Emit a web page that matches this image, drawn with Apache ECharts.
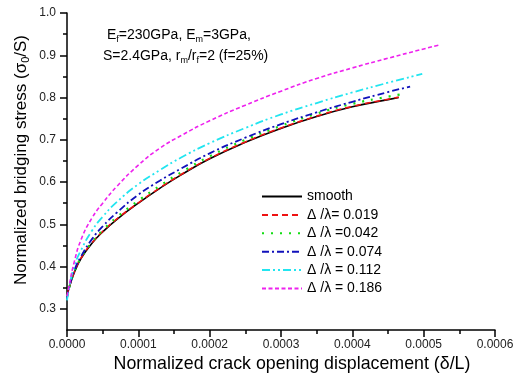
<!DOCTYPE html>
<html><head><meta charset="utf-8">
<script src="https://cdn.jsdelivr.net/npm/echarts@6/dist/echarts.min.js"></script>
<style>html,body{margin:0;padding:0;background:#fff}#c{width:521px;height:384px}</style>
</head><body><div id="c"></div>
<script>
// ---- data ----
const seriesNames = ['smooth', 'Δ /λ= 0.019', 'Δ /λ =0.042', 'Δ /λ = 0.074', 'Δ /λ = 0.112', 'Δ /λ = 0.186'];
const xBase = [0, 0.000003, 0.00001, 0.00002, 0.000035, 0.00005, 0.00007, 0.0001, 0.00013, 0.00016, 0.0002, 0.00025, 0.0003, 0.00035, 0.0004, 0.00045];
const xSmooth = xBase.concat([0.000465]);
const ySmooth = [0.33, 0.35, 0.385, 0.42, 0.455, 0.482, 0.512, 0.55, 0.585, 0.617, 0.655, 0.694, 0.727, 0.755, 0.778, 0.795, 0.80];
const x019 = xBase.concat([0.000465]);
const y019 = [0.33, 0.35, 0.386, 0.421, 0.456, 0.483, 0.513, 0.551, 0.586, 0.618, 0.656, 0.695, 0.728, 0.756, 0.779, 0.796, 0.801];
const x042 = xBase.concat([0.00047]);
const y042 = [0.33, 0.35, 0.386, 0.422, 0.458, 0.486, 0.517, 0.556, 0.591, 0.623, 0.661, 0.70, 0.733, 0.762, 0.785, 0.802, 0.808];
const x074 = xBase.concat([0.000481]);
const y074 = [0.325, 0.35, 0.39, 0.425, 0.465, 0.495, 0.528, 0.57, 0.603, 0.632, 0.668, 0.705, 0.737, 0.765, 0.79, 0.813, 0.826];
const x112 = xBase.concat([0.000498]);
const y112 = [0.32, 0.35, 0.40, 0.44, 0.485, 0.518, 0.553, 0.595, 0.628, 0.658, 0.692, 0.728, 0.76, 0.787, 0.812, 0.835, 0.856];
const x186 = xBase.concat([0.000521]);
const y186 = [0.33, 0.355, 0.41, 0.465, 0.515, 0.55, 0.59, 0.64, 0.68, 0.71, 0.745, 0.782, 0.815, 0.845, 0.87, 0.893, 0.924];
const yTicks = [0.3, 0.4, 0.5, 0.6, 0.7, 0.8, 0.9, 1.0];
const yMinorTicks = [0.35, 0.45, 0.55, 0.65, 0.75, 0.85, 0.95];

// ---- styles ----
const FONT = "'Liberation Sans', Arial, sans-serif";
const seriesX = [xSmooth, x019, x042, x074, x112, x186];
const seriesY = [ySmooth, y019, y042, y074, y112, y186];
const styles = [
  {color: '#000000', width: 1.6, type: 'solid'},
  {color: '#ee1111', width: 1.6, type: [6, 4]},
  {color: '#11dd11', width: 2.2, type: [2, 7]},
  {color: '#1111bb', width: 1.8, type: [7, 3, 2, 3]},
  {color: '#22e5f0', width: 1.8, type: [8, 3, 2, 3, 2, 3]},
  {color: '#ee22ee', width: 1.6, type: [4, 2.5]}
];

const chart = echarts.init(document.getElementById('c'), null, {renderer: 'canvas'});
const axisLineStyle = {color: '#000', width: 1.5};
chart.setOption({
  animation: false,
  backgroundColor: '#fff',
  textStyle: {fontFamily: FONT},
  grid: {left: 67, right: 26, top: 13, bottom: 54},
  xAxis: {
    type: 'value', min: 0, max: 0.0006, interval: 0.0001,
    axisLine: {lineStyle: axisLineStyle},
    axisTick: {length: 7, lineStyle: axisLineStyle},
    minorTick: {show: true, splitNumber: 2, length: 4, lineStyle: axisLineStyle},
    splitLine: {show: false},
    axisLabel: {formatter: v => v.toFixed(4), fontSize: 12, color: '#222', margin: 9, fontFamily: FONT}
  },
  yAxis: [{
    type: 'value', min: 0.25, max: 1.0,
    axisLine: {show: true, lineStyle: axisLineStyle},
    axisTick: {show: true, length: 7, lineStyle: axisLineStyle, customValues: yTicks},
    splitLine: {show: false},
    axisLabel: {customValues: yTicks, formatter: v => v.toFixed(1), fontSize: 12, color: '#222', margin: 11, fontFamily: FONT}
  }, {
    type: 'value', min: 0.25, max: 1.0, position: 'left',
    axisLine: {show: false},
    axisTick: {show: true, length: 4, lineStyle: axisLineStyle, customValues: yMinorTicks},
    splitLine: {show: false},
    axisLabel: {show: false}
  }],
  legend: {
    orient: 'vertical', left: 256, top: 184.5,
    itemWidth: 40, itemHeight: 12, itemGap: 4.4,
    itemStyle: {opacity: 0},
    textStyle: {fontSize: 14, lineHeight: 14, color: '#000', fontFamily: FONT},
    data: seriesNames
  },
  series: seriesNames.map((name, i) => ({
    name: name, type: 'line', xAxisIndex: 0, yAxisIndex: 0,
    symbol: 'none', showSymbol: false, smooth: 0.5,
    lineStyle: styles[i], itemStyle: {color: styles[i].color},
    data: seriesX[i].map((x, j) => [x, seriesY[i][j]])
  })),
  graphic: [
    {type: 'text', x: 107, y: 26, style: {
      text: '{a|E}{s|f}{a|=230GPa, E}{s|m}{a|=3GPa,}',
      rich: {a: {fontSize: 14, lineHeight: 18, fontFamily: FONT, fill: '#000'},
             s: {fontSize: 9, lineHeight: 9, verticalAlign: 'bottom', fontFamily: FONT, fill: '#000'}}
    }},
    {type: 'text', x: 103, y: 47.5, style: {
      text: '{a|S=2.4GPa, r}{s|m}{a|/r}{s|f}{a|=2 (f=25%)}',
      rich: {a: {fontSize: 14, lineHeight: 18, fontFamily: FONT, fill: '#000'},
             s: {fontSize: 9, lineHeight: 9, verticalAlign: 'bottom', fontFamily: FONT, fill: '#000'}}
    }},
    {type: 'text', x: 21, y: 160, rotation: Math.PI / 2, style: {
      text: '{a|Normalized bridging stress (σ}{s|0}{a|/S)}',
      align: 'center', verticalAlign: 'middle',
      rich: {a: {fontSize: 17, lineHeight: 21, fontFamily: FONT, fill: '#000'},
             s: {fontSize: 11, lineHeight: 11, verticalAlign: 'bottom', fontFamily: FONT, fill: '#000'}}
    }},
    {type: 'text', x: 292, y: 364, style: {
      text: 'Normalized crack opening displacement (δ/L)',
      align: 'center', verticalAlign: 'middle',
      fontSize: 17.8, fontFamily: FONT, fill: '#000'
    }}
  ]
});
</script>
</body></html>
